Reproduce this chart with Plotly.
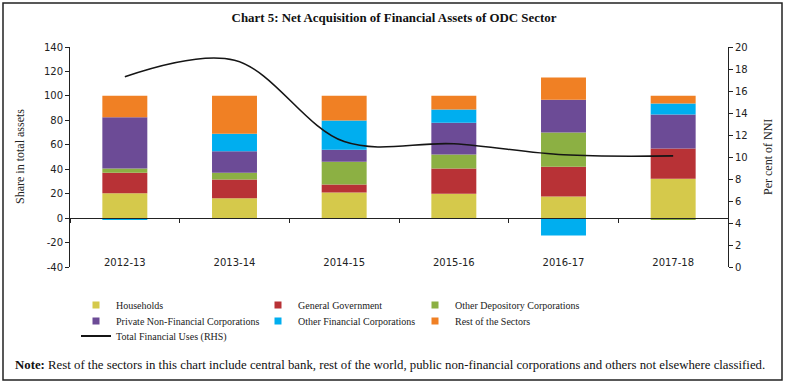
import plotly.graph_objects as go

categories = ["2012-13", "2013-14", "2014-15", "2015-16", "2016-17", "2017-18"]
households = [20.3, 16.2, 20.9, 20.0, 17.6, 32.3]
general_government = [16.9, 15.3, 6.5, 20.5, 24.5, 24.6]
other_depository = [3.3, 5.7, 18.8, 11.5, 27.9, -1.0]
private_nfc = [42.0, 17.5, 9.8, 26.1, 26.9, 27.8]
other_financial = [-1.0, 14.4, 23.8, 10.7, -14.3, 9.0]
rest_of_sectors = [17.6, 31.1, 20.4, 11.4, 18.1, 6.5]
total_financial_uses = [17.3, 18.8, 11.4, 11.2, 10.2, 10.1]

left_ticks = [-40, -20, 0, 20, 40, 60, 80, 100, 120, 140]
left_tick_labels = ["-40", "-20", "0", "20", "40", "60", "80", "100", "120", "140"]
right_ticks = [0, 2, 4, 6, 8, 10, 12, 14, 16, 18, 20]
right_tick_labels = ["0", "2", "4", "6", "8", "10", "12", "14", "16", "18", "20"]

series = [
    ("Households", households, "#D5C94B"),
    ("General Government", general_government, "#B83236"),
    ("Other Depository Corporations", other_depository, "#8CB043"),
    ("Private Non-Financial Corporations", private_nfc, "#6C4B96"),
    ("Other Financial Corporations", other_financial, "#00AEEF"),
    ("Rest of the Sectors", rest_of_sectors, "#F08024"),
]
line_name = "Total Financial Uses (RHS)"

W, H = 785, 384
L, R, T, B = 70, 728, 47, 267
pw, ph = R - L, B - T

fig = go.Figure()
for name, vals, col in series:
    fig.add_trace(go.Bar(x=categories, y=vals, name=name, marker_color=col,
                         marker_line_width=0, showlegend=False))

fig.add_trace(go.Scatter(x=categories, y=total_financial_uses, xaxis="x2", yaxis="y2",
                         mode="lines", name=line_name, showlegend=False,
                         line=dict(color="#151515", width=1.6, shape="spline")))

# legend proxies (one legend per entry to reproduce the 3-column layout)
legend_pos = {
    "Households": (116, 305),
    "General Government": (298, 305),
    "Other Depository Corporations": (455, 305),
    "Private Non-Financial Corporations": (116, 321),
    "Other Financial Corporations": (298, 321),
    "Rest of the Sectors": (455, 321),
    line_name: (116, 336),
}
legend_font = dict(family="Liberation Serif", size=10, color="#222")


def legend_box(name):
    tx, ty = legend_pos[name]
    return dict(xref="paper", yref="paper", x=(tx - 40 - L) / pw, y=(B - ty) / ph,
                xanchor="left", yanchor="middle", font=legend_font,
                bgcolor="rgba(0,0,0,0)", itemwidth=30, borderwidth=0)


layout_legends = {}
for i, (name, vals, col) in enumerate(series):
    key = "legend" if i == 0 else f"legend{i+1}"
    fig.add_trace(go.Scatter(x=[None], y=[None], mode="markers", name=name,
                             marker=dict(symbol="square", size=7, color=col),
                             legend=key, showlegend=True))
    layout_legends[key] = legend_box(name)
key = "legend7"
fig.add_trace(go.Scatter(x=[None], y=[None], mode="lines", name=line_name,
                         line=dict(color="#151515", width=2), legend=key, showlegend=True))
layout_legends[key] = legend_box(line_name)

axis_font = dict(family="DejaVu Sans", size=10, color="#222")
zero_frac = (0 - left_ticks[0]) / (left_ticks[-1] - left_ticks[0])

fig.update_layout(
    width=W, height=H,
    margin=dict(l=L, r=W - R, t=T, b=H - B, pad=0, autoexpand=False),
    paper_bgcolor="white", plot_bgcolor="white",
    barmode="relative", bargap=0.59,
    title=dict(text="<b>Chart 5: Net Acquisition of Financial Assets of ODC Sector</b>",
               x=394 / W, xref="container", y=1 - 17 / H, yref="container",
               xanchor="center", yanchor="middle",
               font=dict(family="Liberation Serif", size=12.9, color="#111")),
    xaxis=dict(type="category", categoryarray=categories, range=[-0.5, 5.5],
               showline=False, ticks="", showgrid=False, zeroline=False,
               tickfont=axis_font, ticklabelstandoff=-12, anchor="y"),
    xaxis2=dict(type="category", categoryarray=categories, range=[-0.5, 5.5],
                overlaying="x", anchor="free", position=zero_frac,
                showline=True, linecolor="#222", linewidth=1,
                ticks="outside", ticklen=4, tickcolor="#222", tickson="boundaries",
                showticklabels=False, showgrid=False, zeroline=False),
    yaxis=dict(range=[left_ticks[0], left_ticks[-1]], tickvals=left_ticks,
               ticktext=left_tick_labels,
               showline=True, linecolor="#222", linewidth=1, ticks="outside",
               ticklen=4, tickcolor="#222", showgrid=False, zeroline=False,
               tickfont=axis_font),
    yaxis2=dict(range=[right_ticks[0], right_ticks[-1]], tickvals=right_ticks,
                ticktext=right_tick_labels,
                overlaying="y", side="right", anchor="free", position=1.0,
                showline=True, linecolor="#222", linewidth=1, ticks="outside",
                ticklen=4, tickcolor="#222", showgrid=False, zeroline=False,
                tickfont=axis_font),
    **layout_legends,
)

fig.add_annotation(text="Share in total assets", textangle=-90, xref="paper", yref="paper",
                   x=(20 - L) / pw, y=0.5, xanchor="center", yanchor="middle",
                   showarrow=False,
                   font=dict(family="Liberation Serif", size=12, color="#222"))
fig.add_annotation(text="Per cent of NNI", textangle=-90, xref="paper", yref="paper",
                   x=(768 - L) / pw, y=0.5, xanchor="center", yanchor="middle",
                   showarrow=False,
                   font=dict(family="Liberation Serif", size=12, color="#222"))
fig.add_annotation(text="<b>Note:</b> Rest of the sectors in this chart include central bank, rest of the world, public non-financial corporations and others not elsewhere classified.",
                   xref="paper", yref="paper", x=(13 - L) / pw, y=(B - 365) / ph,
                   xanchor="left", yanchor="middle", showarrow=False,
                   font=dict(family="Liberation Serif", size=12.8, color="#111"))
fig.add_shape(type="rect", xref="paper", yref="paper",
              x0=(3 - L) / pw, x1=(782 - L) / pw, y0=(B - 380) / ph, y1=(B - 3) / ph,
              line=dict(color="#222", width=1.5), fillcolor="rgba(0,0,0,0)")

fig.write_html("out.html", config={"displayModeBar": False},
               post_script="document.body.style.margin='0';")
